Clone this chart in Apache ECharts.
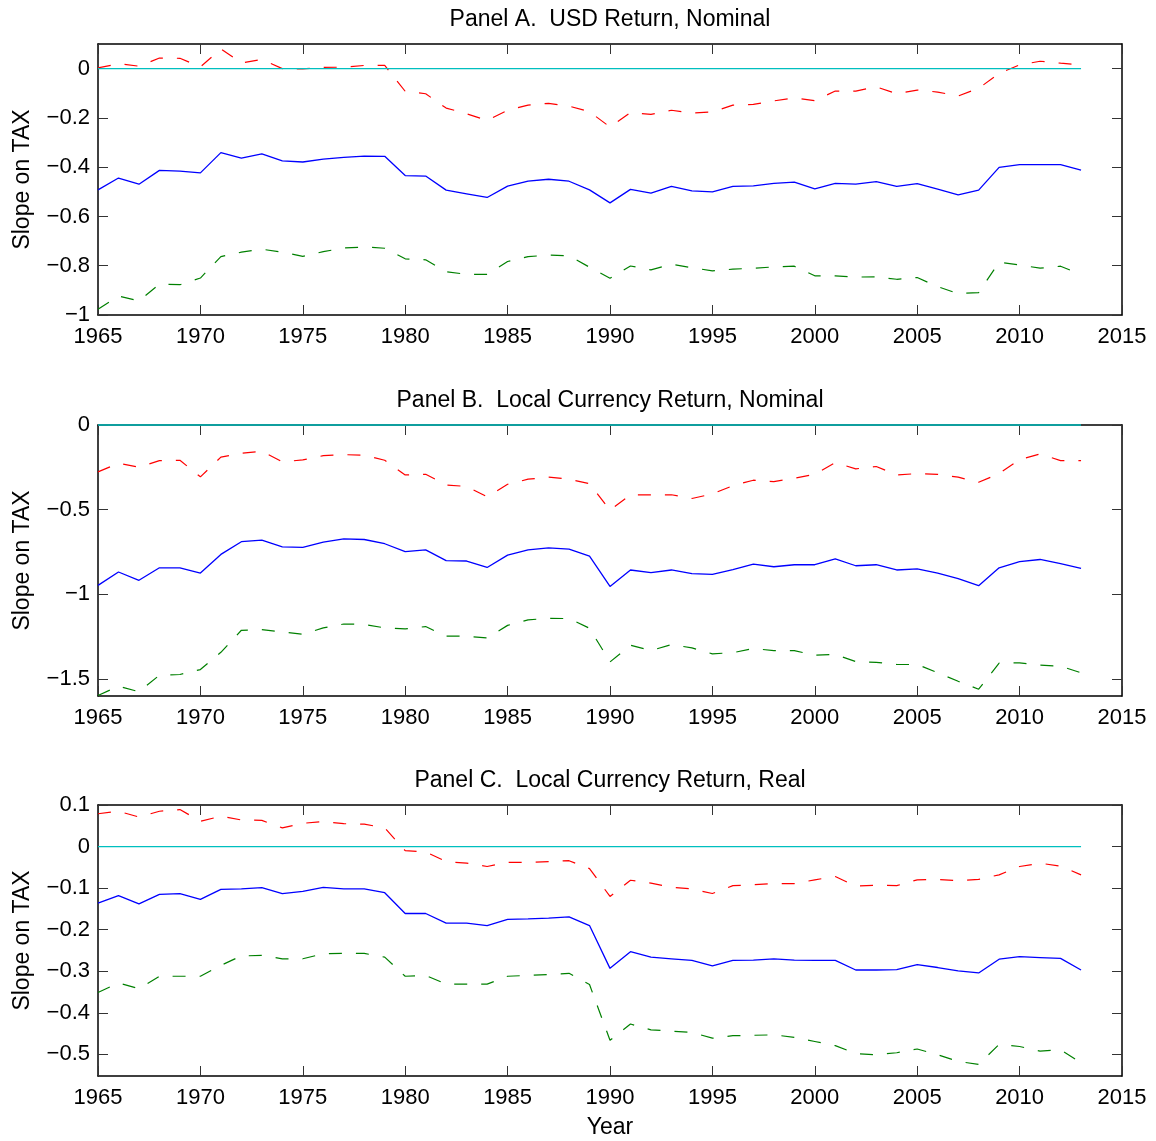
<!DOCTYPE html>
<html>
<head>
<meta charset="utf-8">
<title>Slope on TAX</title>
<script src="https://cdn.jsdelivr.net/npm/echarts@6/dist/echarts.min.js"></script>
<style>
  html, body { margin: 0; padding: 0; background: #fff; }
  #chart { width: 1156px; height: 1141px; }
</style>
</head>
<body>
<div id="chart"></div>
<script>
// Sample years
const years = [1965,1966,1967,1968,1969,1970,1971,1972,1973,1974,1975,1976,1977,1978,1979,
  1980,1981,1982,1983,1984,1985,1986,1987,1988,1989,1990,1991,1992,1993,1994,1995,1996,
  1997,1998,1999,2000,2001,2002,2003,2004,2005,2006,2007,2008,2009,2010,2011,2012,2013];

// Panel A: USD return, nominal
const usdEst = [-0.492,-0.444,-0.469,-0.413,-0.416,-0.423,-0.341,-0.363,-0.346,-0.374,-0.379,-0.367,-0.360,-0.355,-0.356,
  -0.434,-0.436,-0.493,-0.508,-0.523,-0.477,-0.457,-0.449,-0.457,-0.492,-0.545,-0.490,-0.505,-0.478,-0.496,-0.500,-0.478,
  -0.476,-0.466,-0.461,-0.488,-0.466,-0.469,-0.459,-0.478,-0.467,-0.489,-0.512,-0.493,-0.401,-0.390,-0.390,-0.390,-0.412];
const usdUpper = [0.003,0.020,0.010,0.043,0.042,0.007,0.080,0.023,0.037,0.000,-0.001,0.005,0.006,0.013,0.013,
  -0.092,-0.102,-0.160,-0.183,-0.210,-0.169,-0.148,-0.141,-0.152,-0.175,-0.237,-0.178,-0.186,-0.169,-0.180,-0.176,-0.148,
  -0.145,-0.131,-0.119,-0.130,-0.091,-0.091,-0.074,-0.102,-0.087,-0.095,-0.111,-0.080,-0.019,0.015,0.030,0.022,0.015];
const usdLower = [-0.977,-0.923,-0.943,-0.875,-0.877,-0.850,-0.763,-0.745,-0.733,-0.745,-0.762,-0.743,-0.728,-0.724,-0.729,
  -0.772,-0.776,-0.824,-0.835,-0.835,-0.783,-0.763,-0.757,-0.760,-0.806,-0.851,-0.801,-0.817,-0.794,-0.808,-0.821,-0.814,
  -0.810,-0.805,-0.802,-0.841,-0.841,-0.846,-0.845,-0.855,-0.848,-0.885,-0.913,-0.909,-0.786,-0.797,-0.810,-0.802,-0.835];

// Panel B: local currency return, nominal
const locNomEst = [-0.947,-0.868,-0.917,-0.843,-0.843,-0.874,-0.764,-0.689,-0.680,-0.719,-0.723,-0.691,-0.672,-0.676,-0.701,
  -0.748,-0.737,-0.801,-0.803,-0.841,-0.768,-0.737,-0.725,-0.733,-0.774,-0.953,-0.856,-0.872,-0.856,-0.878,-0.882,-0.854,
  -0.821,-0.837,-0.825,-0.825,-0.790,-0.831,-0.825,-0.856,-0.850,-0.874,-0.907,-0.949,-0.843,-0.807,-0.794,-0.819,-0.847];
const locNomUpper = [-0.277,-0.226,-0.249,-0.210,-0.208,-0.306,-0.190,-0.167,-0.155,-0.218,-0.206,-0.181,-0.175,-0.179,-0.208,
  -0.295,-0.291,-0.354,-0.363,-0.424,-0.350,-0.320,-0.308,-0.320,-0.346,-0.503,-0.412,-0.412,-0.412,-0.434,-0.407,-0.358,
  -0.326,-0.334,-0.314,-0.291,-0.222,-0.259,-0.245,-0.295,-0.287,-0.291,-0.308,-0.338,-0.287,-0.204,-0.171,-0.210,-0.210];
const locNomLower = [-1.597,-1.542,-1.575,-1.477,-1.473,-1.444,-1.342,-1.212,-1.208,-1.222,-1.236,-1.198,-1.175,-1.177,-1.198,
  -1.204,-1.190,-1.247,-1.247,-1.257,-1.183,-1.151,-1.141,-1.143,-1.200,-1.399,-1.300,-1.332,-1.296,-1.316,-1.351,-1.344,
  -1.320,-1.332,-1.332,-1.359,-1.355,-1.397,-1.401,-1.414,-1.414,-1.463,-1.513,-1.560,-1.406,-1.404,-1.418,-1.424,-1.463];

// Panel C: local currency return, real
const locRealEst = [-0.136,-0.118,-0.138,-0.115,-0.113,-0.127,-0.103,-0.102,-0.099,-0.113,-0.108,-0.098,-0.102,-0.102,-0.111,
  -0.161,-0.161,-0.184,-0.184,-0.190,-0.175,-0.174,-0.172,-0.169,-0.190,-0.293,-0.253,-0.266,-0.270,-0.274,-0.287,-0.274,
  -0.273,-0.270,-0.273,-0.274,-0.274,-0.297,-0.297,-0.296,-0.284,-0.291,-0.299,-0.304,-0.271,-0.265,-0.267,-0.269,-0.297];
const locRealUpper = [0.079,0.085,0.071,0.085,0.089,0.061,0.073,0.064,0.063,0.045,0.056,0.060,0.055,0.054,0.045,
  -0.010,-0.013,-0.036,-0.040,-0.048,-0.038,-0.038,-0.036,-0.034,-0.053,-0.120,-0.081,-0.088,-0.098,-0.102,-0.113,-0.094,
  -0.092,-0.089,-0.089,-0.080,-0.072,-0.095,-0.093,-0.094,-0.080,-0.079,-0.082,-0.079,-0.068,-0.048,-0.040,-0.047,-0.068];
const locRealLower = [-0.351,-0.328,-0.342,-0.312,-0.312,-0.312,-0.286,-0.263,-0.262,-0.270,-0.270,-0.258,-0.257,-0.257,-0.266,
  -0.312,-0.310,-0.331,-0.331,-0.331,-0.312,-0.310,-0.308,-0.305,-0.332,-0.466,-0.427,-0.441,-0.444,-0.447,-0.461,-0.455,
  -0.454,-0.453,-0.459,-0.469,-0.479,-0.498,-0.501,-0.496,-0.487,-0.501,-0.517,-0.524,-0.476,-0.481,-0.492,-0.489,-0.520];

// Axis ticks
const yearTickStep = 5;
const ticksA = [-1, -0.8, -0.6, -0.4, -0.2, 0];
const ticksB = [-1.5, -1, -0.5, 0];
const ticksC = [-0.5, -0.4, -0.3, -0.2, -0.1, 0, 0.1];

const panelTitles = [
  'Panel A.  USD Return, Nominal',
  'Panel B.  Local Currency Return, Nominal',
  'Panel C.  Local Currency Return, Real'
];
const yAxisTitle = 'Slope on TAX';
const xAxisTitle = 'Year';

const FONT = '"Liberation Sans", Arial, Helvetica, sans-serif';
const FS = 22;      // tick labels
const FS_T = 23;    // titles and axis names

const panels = [
  { est: usdEst, upper: usdUpper, lower: usdLower, ticks: ticksA, min: -1, max: 0.1, top: 44 },
  { est: locNomEst, upper: locNomUpper, lower: locNomLower, ticks: ticksB, min: -1.6, max: 0, top: 425 },
  { est: locRealEst, upper: locRealUpper, lower: locRealLower, ticks: ticksC, min: -0.552, max: 0.1, top: 805 }
];

const GRID_LEFT = 98, GRID_W = 1024, GRID_H = 271;

const fmt = v => (v === 0 ? '0' : String(v).replace('-', '\u2212'));
const pairs = vals => years.map((y, i) => [y, vals[i]]);

const boxLine = { show: true, onZero: false, lineStyle: { color: '#000', width: 1.5 } };
const tickStyle = { color: '#333', width: 1 };

const grid = [], xAxis = [], yAxis = [], series = [], title = [];

panels.forEach((p, i) => {
  grid.push({ left: GRID_LEFT, top: p.top, width: GRID_W, height: GRID_H, containLabel: false });
  title.push({
    text: panelTitles[i], left: GRID_LEFT + GRID_W / 2, top: p.top - 36, textAlign: 'center', padding: 0,
    textStyle: { fontFamily: FONT, fontSize: FS_T, fontWeight: 'normal', color: '#000' }
  });
  const xBase = {
    type: 'value', gridIndex: i, min: years[0], max: 2015, interval: yearTickStep,
    axisLine: boxLine, splitLine: { show: false },
    axisTick: { show: true, inside: true, length: 10, lineStyle: tickStyle }
  };
  xAxis.push(Object.assign({}, xBase, {
    position: 'bottom',
    axisLabel: { show: true, margin: 11, color: '#000', fontFamily: FONT, fontSize: FS, formatter: v => String(v) },
    name: i === 2 ? xAxisTitle : '', nameLocation: 'middle', nameGap: 40,
    nameTextStyle: { fontFamily: FONT, fontSize: FS_T, color: '#000' }
  }));
  xAxis.push(Object.assign({}, xBase, { position: 'top', axisLabel: { show: false } }));
  const yBase = {
    type: 'value', gridIndex: i, min: p.min, max: p.max,
    axisLine: boxLine, splitLine: { show: false },
    axisTick: { show: true, inside: true, length: 10, lineStyle: tickStyle, customValues: p.ticks }
  };
  yAxis.push(Object.assign({}, yBase, {
    position: 'left',
    axisLabel: { show: true, margin: 8, color: '#000', fontFamily: FONT, fontSize: FS, customValues: p.ticks, formatter: fmt },
    name: yAxisTitle, nameLocation: 'middle', nameRotate: 90, nameGap: 64,
    nameTextStyle: { fontFamily: FONT, fontSize: FS_T, color: '#000' }
  }));
  yAxis.push(Object.assign({}, yBase, { position: 'right', axisLabel: { show: false } }));

  const common = { type: 'line', xAxisIndex: 2 * i, yAxisIndex: 2 * i, showSymbol: false, symbol: 'none', animation: false, silent: true };
  series.push(Object.assign({}, common, { data: pairs(p.upper), lineStyle: { color: '#ff0000', width: 1.2, type: [13, 14] } }));
  series.push(Object.assign({}, common, { data: pairs(p.est), lineStyle: { color: '#0000ff', width: 1.3, type: 'solid' } }));
  series.push(Object.assign({}, common, { data: pairs(p.lower), lineStyle: { color: '#008000', width: 1.2, type: [13, 14] } }));
  series.push(Object.assign({}, common, {
    data: [[years[0], 0], [years[years.length - 1], 0]], clip: false,
    lineStyle: { color: '#00bfbf', width: 1.3, type: 'solid' }, z: 3
  }));
});

const chart = echarts.init(document.getElementById('chart'), null, { renderer: 'canvas' });
chart.setOption({ backgroundColor: '#fff', animation: false, title, grid, xAxis, yAxis, series });
</script>
</body>
</html>
